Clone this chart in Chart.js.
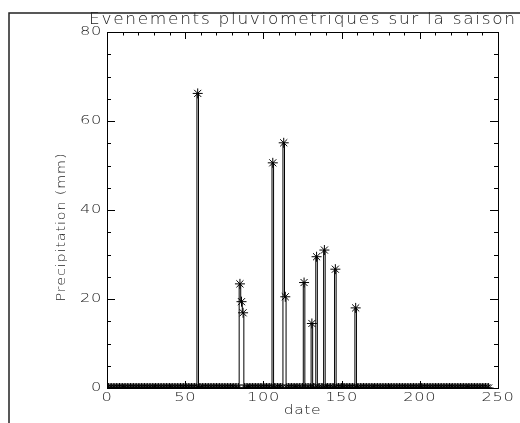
<!DOCTYPE html>
<html>
<head>
<meta charset="utf-8">
<script src="https://cdn.jsdelivr.net/npm/chart.js@4/dist/chart.umd.min.js"></script>
<style>
  html, body { margin: 0; padding: 0; background: #fff; }
  #wrap { width: 520px; height: 423px; position: relative; }
</style>
</head>
<body>
<div id="wrap"><canvas id="rainChart" width="520" height="423"></canvas></div>
<script>
// rain events (day of season, mm)
const eventDays = [58, 85, 86, 87, 106, 113, 114, 126, 131, 134, 139, 146, 159];
const eventRain = [66.2, 23.4, 19.4, 16.9, 50.6, 55.1, 20.5, 23.7, 14.5, 29.5, 31.0, 26.7, 18.0];
// every other day of the season is plotted at 0
const firstDay = 0;
const lastDay = 244;

const xTicks = [0, 50, 100, 150, 200, 250];
const yTicks = [0, 20, 40, 60, 80];

const titleText = 'Evenements pluviometriques sur la saison';
const xTitle = 'date';
const yTitle = 'Precipitation (mm)';

const FONT = '"DejaVu Sans", sans-serif';

// daily series
const daily = [];
for (let d = firstDay; d <= lastDay; d++) {
    const i = eventDays.indexOf(d);
    daily.push({ x: d, y: i >= 0 ? eventRain[i] : 0 });
}

// draw text stretched horizontally (the Hershey font is wide)
function wideText(ctx, text, x, y, sx, align, spacing) {
    ctx.save();
    ctx.letterSpacing = (spacing || 0) + 'px';
    const w = ctx.measureText(text).width * sx;
    let left = x;
    if (align === 'center') left = x - w / 2;
    if (align === 'right') left = x - w;
    ctx.translate(left, y);
    ctx.scale(sx, 1);
    ctx.textAlign = 'left';
    ctx.textBaseline = 'middle';
    ctx.fillText(text, 0, 0);
    ctx.restore();
}

const idlFrame = {
    id: 'idlFrame',
    beforeDraw(chart) {
        const ctx = chart.ctx;
        ctx.save();
        ctx.fillStyle = '#fff';
        ctx.fillRect(0, 0, chart.width, chart.height);
        // window frame top/left
        ctx.strokeStyle = '#222';
        ctx.lineWidth = 1.5;
        ctx.beginPath();
        ctx.moveTo(9, chart.height);
        ctx.lineTo(9, 13);
        ctx.lineTo(chart.width, 13);
        ctx.stroke();
        ctx.restore();
    },
    afterDraw(chart) {
        const ctx = chart.ctx;
        const a = chart.chartArea;
        const xs = chart.scales.x, ys = chart.scales.y;
        ctx.save();
        ctx.strokeStyle = '#000';
        ctx.lineWidth = 1;
        ctx.strokeRect(Math.round(a.left) + 0.5, Math.round(a.top) + 0.5,
            Math.round(a.right - a.left), Math.round(a.bottom - a.top));

        // inward ticks
        ctx.beginPath();
        for (let v = 0; v <= 250; v += 10) {
            const px = Math.round(xs.getPixelForValue(v)) + 0.5;
            const len = v % 50 === 0 ? 7 : 3.5;
            ctx.moveTo(px, a.bottom); ctx.lineTo(px, a.bottom - len);
            ctx.moveTo(px, a.top); ctx.lineTo(px, a.top + len);
        }
        for (let v = 0; v <= 80; v += 5) {
            const py = Math.round(ys.getPixelForValue(v)) + 0.5;
            const len = v % 20 === 0 ? 8 : 4;
            ctx.moveTo(a.left, py); ctx.lineTo(a.left + len, py);
            ctx.moveTo(a.right, py); ctx.lineTo(a.right - len, py);
        }
        ctx.stroke();

        ctx.fillStyle = '#222';
        // tick labels
        ctx.font = '200 13px ' + FONT;
        xTicks.forEach(v => wideText(ctx, String(v), xs.getPixelForValue(v), 398, 1.25, 'center', 0.5));
        yTicks.forEach(v => wideText(ctx, String(v), a.left - 5, ys.getPixelForValue(v), 1.25, 'right', 0.5));

        // titles
        ctx.font = '200 15px ' + FONT;
        ctx.letterSpacing = '0px';
        const tw = ctx.measureText(titleText).width;
        wideText(ctx, titleText, 89, 20, 426 / (tw + 39 * 1.5), 'left', 1.5);
        ctx.font = '200 13px ' + FONT;
        wideText(ctx, xTitle, (a.left + a.right) / 2, 411, 1.2, 'center', 0.5);
        ctx.translate(62, 227);
        ctx.rotate(-Math.PI / 2);
        wideText(ctx, yTitle, 0, 0, 1.1, 'center', 0.8);
        ctx.restore();
    }
};

new Chart(document.getElementById('rainChart'), {
    type: 'line',
    data: {
        datasets: [
            {
                // histogram-style stems
                data: daily,
                stepped: 'middle',
                borderColor: '#000',
                borderWidth: 1,
                pointRadius: 0,
                fill: false,
                clip: 0
            },
            {
                // asterisks on every day
                data: daily,
                showLine: false,
                pointStyle: 'star',
                pointRadius: 5,
                pointBorderColor: '#000',
                pointBorderWidth: 1,
                borderColor: '#000',
                clip: 0
            }
        ]
    },
    options: {
        responsive: false,
        animation: false,
        events: [],
        layout: { padding: { left: 0, top: 32, right: 22, bottom: 0 } },
        plugins: {
            legend: { display: false },
            title: { display: false },
            tooltip: { enabled: false }
        },
        scales: {
            x: {
                type: 'linear',
                min: 0,
                max: 250,
                afterBuildTicks: s => { s.ticks = xTicks.map(v => ({ value: v })); },
                afterFit: s => { s.height = 35; },
                grid: { display: false, drawTicks: false },
                border: { display: false },
                ticks: { display: false }
            },
            y: {
                type: 'linear',
                min: 0,
                max: 80,
                afterBuildTicks: s => { s.ticks = yTicks.map(v => ({ value: v })); },
                afterFit: s => { s.width = 107; },
                grid: { display: false, drawTicks: false },
                border: { display: false },
                ticks: { display: false }
            }
        }
    },
    plugins: [idlFrame]
});
</script>
</body>
</html>
